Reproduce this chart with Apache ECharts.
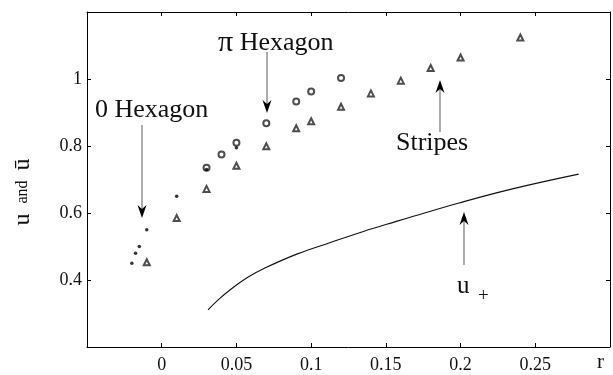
<!DOCTYPE html>
<html>
<head>
<meta charset="utf-8">
<script src="https://cdn.jsdelivr.net/npm/echarts@6/dist/echarts.min.js"></script>
<style>
html, body { margin: 0; padding: 0; background: #fff; }
#main { width: 613px; height: 375px; }
</style>
</head>
<body>
<div id="main"></div>
<script>
// 0 Hexagon (黑点)
var dotR = [-0.02, -0.0175, -0.015, -0.01, 0.01, 0.03, 0.05];
var dotU = [0.45, 0.48, 0.50, 0.55, 0.65, 0.73, 0.795];
// pi Hexagon (空心圆)
var circR = [0.03, 0.04, 0.05, 0.07, 0.09, 0.10, 0.12];
var circU = [0.735, 0.775, 0.81, 0.868, 0.933, 0.963, 1.003];
// Stripes (三角)
var triR = [-0.01, 0.01, 0.03, 0.05, 0.07, 0.09, 0.10, 0.12, 0.14, 0.16, 0.18, 0.20, 0.24];
var triU = [0.453, 0.585, 0.672, 0.741, 0.799, 0.853, 0.874, 0.917, 0.957, 0.995, 1.033, 1.064, 1.124];
// u+ 曲线
var curveR = [0.031, 0.0376, 0.0465, 0.0576, 0.0687, 0.0908, 0.1129, 0.135, 0.157, 0.169, 0.199, 0.2347, 0.279];
var curveU = [0.311, 0.340, 0.373, 0.408, 0.435, 0.478, 0.512, 0.545, 0.575, 0.591, 0.630, 0.672, 0.716];
// 刻度
var xTicks = ['0', '0.05', '0.1', '0.15', '0.2', '0.25'];
var yTicks = ['0.4', '0.6', '0.8', '1'];

function pairs(xs, ys) {
    var out = [];
    for (var i = 0; i < xs.length; i++) out.push([xs[i], ys[i]]);
    return out;
}

var serif = 'Liberation Serif';

function arrow(x, yTail, yTip) {
    var dir = yTip > yTail ? 1 : -1;
    var back = yTip - dir * 13;
    var notch = yTip - dir * 9;
    return [
        { type: 'line', shape: { x1: x, y1: yTail, x2: x, y2: notch }, style: { stroke: '#777', lineWidth: 1.2 } },
        { type: 'polygon', shape: { points: [[x, yTip], [x - 4.5, back], [x, notch], [x + 4.5, back]] }, style: { fill: '#000' } }
    ];
}

var myChart = echarts.init(document.getElementById('main'));
var tickStyle = { show: true, inside: true, length: 4, lineStyle: { color: '#000', width: 1 } };
var lineStyle = { show: true, onZero: false, lineStyle: { color: '#000', width: 1 } };

var option = {
    backgroundColor: '#fff',
    animation: false,
    grid: { left: 87, right: 1, top: 12, bottom: 28 },
    xAxis: [
        {
            type: 'value', min: -0.05, max: 0.3, interval: 0.05, position: 'bottom',
            axisLine: lineStyle, axisTick: tickStyle, splitLine: { show: false },
            axisLabel: {
                fontFamily: serif, fontSize: 18, color: '#111', margin: 9,
                formatter: function (v) {
                    var s = String(Math.round(v * 100) / 100);
                    return xTicks.indexOf(s) >= 0 ? s : '';
                }
            }
        },
        {
            type: 'value', min: -0.05, max: 0.3, interval: 0.05, position: 'top',
            axisLine: lineStyle, axisTick: tickStyle, splitLine: { show: false },
            axisLabel: { show: false }
        }
    ],
    yAxis: [
        {
            type: 'value', min: 0.2, max: 1.2, interval: 0.2, position: 'left',
            axisLine: lineStyle, axisTick: tickStyle, splitLine: { show: false },
            axisLabel: {
                fontFamily: serif, fontSize: 18, color: '#111', margin: 5,
                formatter: function (v) {
                    var s = String(Math.round(v * 10) / 10);
                    return yTicks.indexOf(s) >= 0 ? s : '';
                }
            }
        },
        {
            type: 'value', min: 0.2, max: 1.2, interval: 0.2, position: 'right',
            axisLine: lineStyle, axisTick: tickStyle, splitLine: { show: false },
            axisLabel: { show: false }
        }
    ],
    series: [
        {
            type: 'line', data: pairs(curveR, curveU), smooth: 0.4, showSymbol: false,
            lineStyle: { color: '#111', width: 1.1 }
        },
        {
            type: 'scatter', data: pairs(circR, circU), symbol: 'emptyCircle', symbolSize: 6,
            itemStyle: { color: '#222', borderWidth: 0.8 }
        },
        {
            type: 'scatter', data: pairs(triR, triU), symbol: 'emptyTriangle', symbolSize: 6,
            itemStyle: { color: '#222', borderWidth: 0.8 }
        },
        {
            type: 'scatter', data: pairs(dotR, dotU), symbol: 'circle', symbolSize: 3.5,
            itemStyle: { color: '#000' }
        }
    ],
    graphic: [].concat(
        arrow(267, 52, 113),
        arrow(142, 125, 218),
        arrow(440, 132, 80),
        arrow(464, 265, 212),
        [
            {
                type: 'text', x: 218, y: 43,
                style: {
                    text: '{p|π} Hexagon', fontFamily: serif, fontSize: 26, fill: '#111',
                    verticalAlign: 'middle',
                    rich: { p: { fontFamily: serif, fontSize: 30, fill: '#111' } }
                }
            },
            {
                type: 'text', x: 95, y: 110,
                style: { text: '0 Hexagon', fontFamily: serif, fontSize: 26, fill: '#111', verticalAlign: 'middle' }
            },
            {
                type: 'text', x: 396, y: 143,
                style: { text: 'Stripes', fontFamily: serif, fontSize: 26, fill: '#111', verticalAlign: 'middle' }
            },
            {
                type: 'text', x: 457, y: 286,
                style: { text: 'u', fontFamily: serif, fontSize: 25, fill: '#111', verticalAlign: 'middle' }
            },
            {
                type: 'text', x: 478, y: 296,
                style: { text: '+', fontFamily: serif, fontSize: 19, fill: '#111', verticalAlign: 'middle' }
            },
            {
                type: 'text', x: 597, y: 362,
                style: { text: 'r', fontFamily: serif, fontSize: 21, fill: '#111', verticalAlign: 'middle' }
            },
            {
                type: 'text', x: 23, y: 192, rotation: Math.PI / 2,
                style: {
                    text: '{a|u}   {b|and}   {a|ū}', align: 'center', verticalAlign: 'middle',
                    rich: {
                        a: { fontFamily: serif, fontSize: 24, fill: '#111' },
                        b: { fontFamily: serif, fontSize: 16, fill: '#111' }
                    }
                }
            }
        ]
    )
};
myChart.setOption(option);
</script>
</body>
</html>
